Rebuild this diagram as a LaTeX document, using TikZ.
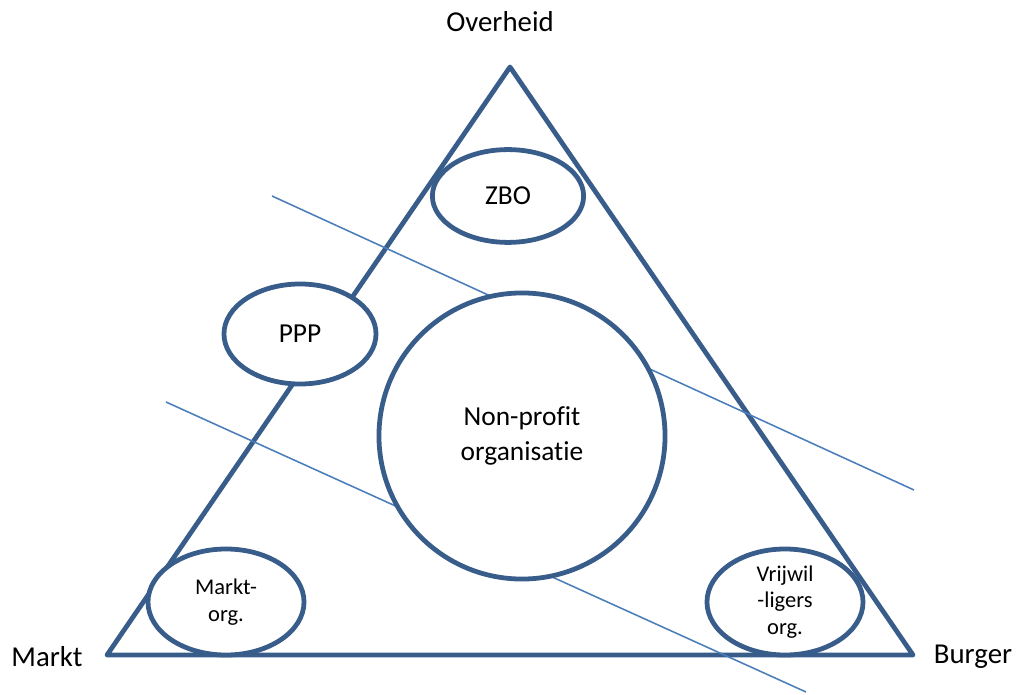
\documentclass[tikz,border=0pt]{standalone}
\usepackage{fontspec}
\setmainfont{Carlito}[Ligatures=NoCommon]
\usetikzlibrary{shapes.geometric}
\definecolor{rand}{HTML}{385D8A}
\definecolor{grens}{HTML}{4A7EBB}

\begin{document}
\begin{tikzpicture}[x=0.025cm, y=-0.025cm,
		ellips_style/.style={ellipse,draw=rand,line width=3.4pt,fill=white,align=center,inner sep=0pt},
		klein_style/.style={ellips_style,minimum width=3.9cm,minimum height=2.65cm,font=\fontsize{16}{19}\selectfont},
		hoek_style/.style={font=\fontsize{20.5}{24}\selectfont},
		edge_style/.style={draw=rand,line width=3.4pt,line join=round},
		grens_style/.style={draw=grens,line width=1.1pt}]
		
		\useasboundingbox (0,0) rectangle (1019,695);
		
		\coordinate (top) at (510,67);
		\coordinate (links) at (107,655);
		\coordinate (rechts) at (913,655);
		\coordinate (g1a) at (272,196);
		\coordinate (g1b) at (914,490);
		\coordinate (g2a) at (166,402);
		\coordinate (g2b) at (806,692);
		
		\draw[edge_style]  (top) -- (links) -- (rechts) -- cycle;
		\draw[grens_style]  (g1a) -- (g1b);
		\draw[grens_style]  (g2a) -- (g2b);
		
		\node[ellips_style,minimum width=3.78cm,minimum height=2.32cm,font=\fontsize{19.5}{24}\selectfont] (zbo) at (508,196)  {ZBO};
		\node[ellips_style,minimum width=3.8cm,minimum height=2.5cm,font=\fontsize{19.5}{24}\selectfont] (ppp) at (300,334)  {PPP};
		\node[ellips_style,circle,minimum size=7.15cm,font=\fontsize{19.5}{24.8}\selectfont] (npo) at (522,436)  {Non-profit\\organisatie};
		\node[klein_style] (markt_org) at (226,602)  {Markt-\\org.};
		\node[klein_style] (vrijwil) at (785,602)  {Vrijwil\\-ligers\\org.};
		
		\node[hoek_style] (overheid) at (500,22)  {Overheid};
		\node[hoek_style] (markt) at (47,657)  {Markt};
		\node[hoek_style] (burger) at (973,657)  {Burger};
		
\end{tikzpicture}
\end{document}
